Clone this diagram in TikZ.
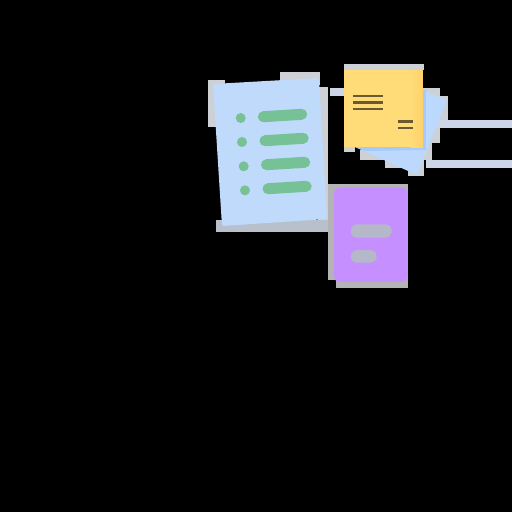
\documentclass[tikz,border=0pt]{standalone}
\usepackage{xcolor}
\definecolor{cSheet}{RGB}{191,218,250}
\definecolor{cBack}{RGB}{188,216,252}
\definecolor{cShade}{RGB}{166,203,248}
\definecolor{cHalo}{RGB}{205,208,212}
\definecolor{cHaloDim}{RGB}{184,192,204}
\definecolor{cHaloCard}{RGB}{180,180,182}
\definecolor{cStripe}{RGB}{204,214,230}
\definecolor{cGreen}{RGB}{118,193,150}
\definecolor{cNote}{RGB}{255,220,120}
\definecolor{cFold}{RGB}{255,208,105}
\definecolor{cInk}{RGB}{105,90,50}
\definecolor{cPurple}{RGB}{198,143,255}
\definecolor{cPill}{RGB}{180,184,200}
\newcommand{\ppx}{*0.02cm}
\tikzset{
	halo/.style   ={fill=cHalo, draw=none},
	stripe/.style ={fill=cStripe, draw=none},
	sheet/.style  ={fill=cSheet, draw=none, rounded corners=1pt},
	bullet/.style ={fill=cGreen, draw=none},
	listbar/.style={cGreen, line width=11\ppx, line cap=round},
	inkline/.style={cInk, line width=2.6\ppx},
	pill/.style   ={fill=cPill, draw=none, rounded corners=6.5\ppx},
}
\begin{document}
\begin{tikzpicture}[x=0.02cm, y=-0.02cm]
			\useasboundingbox (0,0) rectangle (512,512);
			\fill[black] (0,0) rectangle (512,512);
			% stray bands
			\fill[stripe] (330,88) rectangle (345,96);
			\fill[stripe] (436,120) rectangle (512,128);
			\fill[stripe] (426,160) rectangle (512,168);
			% list sheet
			\fill[halo] (208,80) rectangle (225,127);
			\fill[halo] (280,72) rectangle (320,85);
			\fill[halo] (318,87) rectangle (328,222);
			\fill[cHaloDim] (216,220) rectangle (328,232);
			\fill[sheet] (213,84) -- (319,78) -- (327,219) -- (222,226) -- cycle;
			\fill[bullet] (240.7,118) circle (5);
			\fill[bullet] (242,142) circle (5);
			\fill[bullet] (243.7,166.3) circle (5);
			\fill[bullet] (245,190.3) circle (5);
			\draw[listbar] (263.3,116.7) -- (301.7,114.3);
			\draw[listbar] (265,140.7) -- (303.2,138.3);
			\draw[listbar] (266.5,164.7) -- (304.7,162.3);
			\draw[listbar] (268,188.7) -- (306.2,186.3);
			% note with sheet behind
			\fill[halo] (420,88) rectangle (440,100);
			\fill[halo] (430,96) rectangle (448,120);
			\fill[halo] (420,128) rectangle (440,143);
			\fill[halo] (420,143) rectangle (432,160);
			\fill[halo] (360,150) rectangle (430,160);
			\fill[halo] (385,160) rectangle (424,168);
			\fill[halo] (408,168) rectangle (424,176);
			\fill[cBack] (421.7,90) -- (447,100) -- (417,175) -- (355,147) -- cycle;
			\fill[cShade] (421.7,90) -- (426,90) -- (426,150) -- (365,151) -- (355,147) -- cycle;
			\fill[halo] (344,64) rectangle (424,70);
			\fill[halo] (344,147) rectangle (355,152);
			\fill[cNote] (344,70) rectangle (423,147);
			\fill[right color=cFold, left color=cNote, draw=none] (411,70) rectangle (423,147);
			\draw[inkline] (352.7,96) -- (383.3,96);
			\draw[inkline] (352.7,102.7) -- (383.3,102.7);
			\draw[inkline] (352.7,109) -- (383.3,109);
			\draw[inkline] (398,121.7) -- (413,121.7);
			\draw[inkline] (398,128) -- (413,128);
			% purple card
			\fill[cHaloCard] (328,184) rectangle (408,280);
			\fill[cHaloCard] (336,280) rectangle (408,288);
			\fill[cPurple, rounded corners=5\ppx] (334,187.7) rectangle (407.7,281.7);
			\fill[pill] (350.7,224.3) rectangle (391.7,237.7);
			\fill[pill] (350.7,250) rectangle (376.7,262.7);
		\end{tikzpicture}
\end{document}
